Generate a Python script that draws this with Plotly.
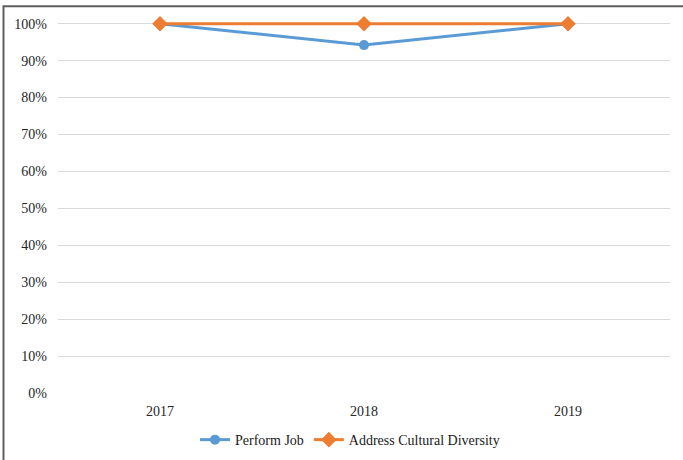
import plotly.graph_objects as go

years = ["2017", "2018", "2019"]
perform_job = [1.00, 0.942, 1.00]
cultural_diversity = [1.00, 1.00, 1.00]
y_ticks = [0, 0.1, 0.2, 0.3, 0.4, 0.5, 0.6, 0.7, 0.8, 0.9, 1.0]

W, H = 683, 460
y_top = 1.01  # a little headroom so the 100% lines are not clipped
ml, mr, mb = 58, 13, 67
unit = 369.0                       # pixels per 100%
mt = 24 - (y_top - 1.0) * unit
pw, ph = W - ml - mr, H - mt - mb

fig = go.Figure()
fig.add_trace(go.Scatter(
    x=years, y=perform_job, name="Perform Job", mode="lines+markers",
    line=dict(color="#5B9BD5", width=3),
    marker=dict(symbol="circle", size=10, color="#5B9BD5"),
    cliponaxis=False,
))
fig.add_trace(go.Scatter(
    x=years, y=cultural_diversity, name="Address Cultural Diversity", mode="lines+markers",
    line=dict(color="#ED7D31", width=3),
    marker=dict(symbol="diamond", size=12, color="#ED7D31"),
    cliponaxis=False,
))

# outer frame (left and top edges visible)
fig.add_shape(type="rect", xref="paper", yref="paper",
              x0=(3.5 - ml) / pw, x1=(W + 60 - ml) / pw,
              y0=(H - mb - (H + 60)) / ph, y1=(H - mb - 6.5) / ph,
              line=dict(color="#5f5f5f", width=2), layer="below")

fig.update_layout(
    width=W, height=H,
    margin=dict(l=ml, r=mr, t=mt, b=mb, autoexpand=False),
    paper_bgcolor="white", plot_bgcolor="white",
    font=dict(family="Liberation Serif, Times New Roman, serif", size=14, color="#262626"),
    showlegend=True,
    legend=dict(orientation="h", x=(350 - ml) / pw, xanchor="center",
                y=(H - mb - 440) / ph, yanchor="middle",
                font=dict(size=14, color="#1a1a1a"), itemwidth=30, tracegroupgap=0),
    xaxis=dict(type="category", range=[-0.5, 2.5], showgrid=False, showline=False,
               ticks="", zeroline=False, ticklabelstandoff=8),
    yaxis=dict(range=[0, y_top], tickvals=y_ticks, tickformat=".0%",
               showgrid=True, gridcolor="#d9d9d9", gridwidth=1,
               zeroline=False, showline=False, ticks="", ticklabelstandoff=10),
)

fig.write_html("out.html")
